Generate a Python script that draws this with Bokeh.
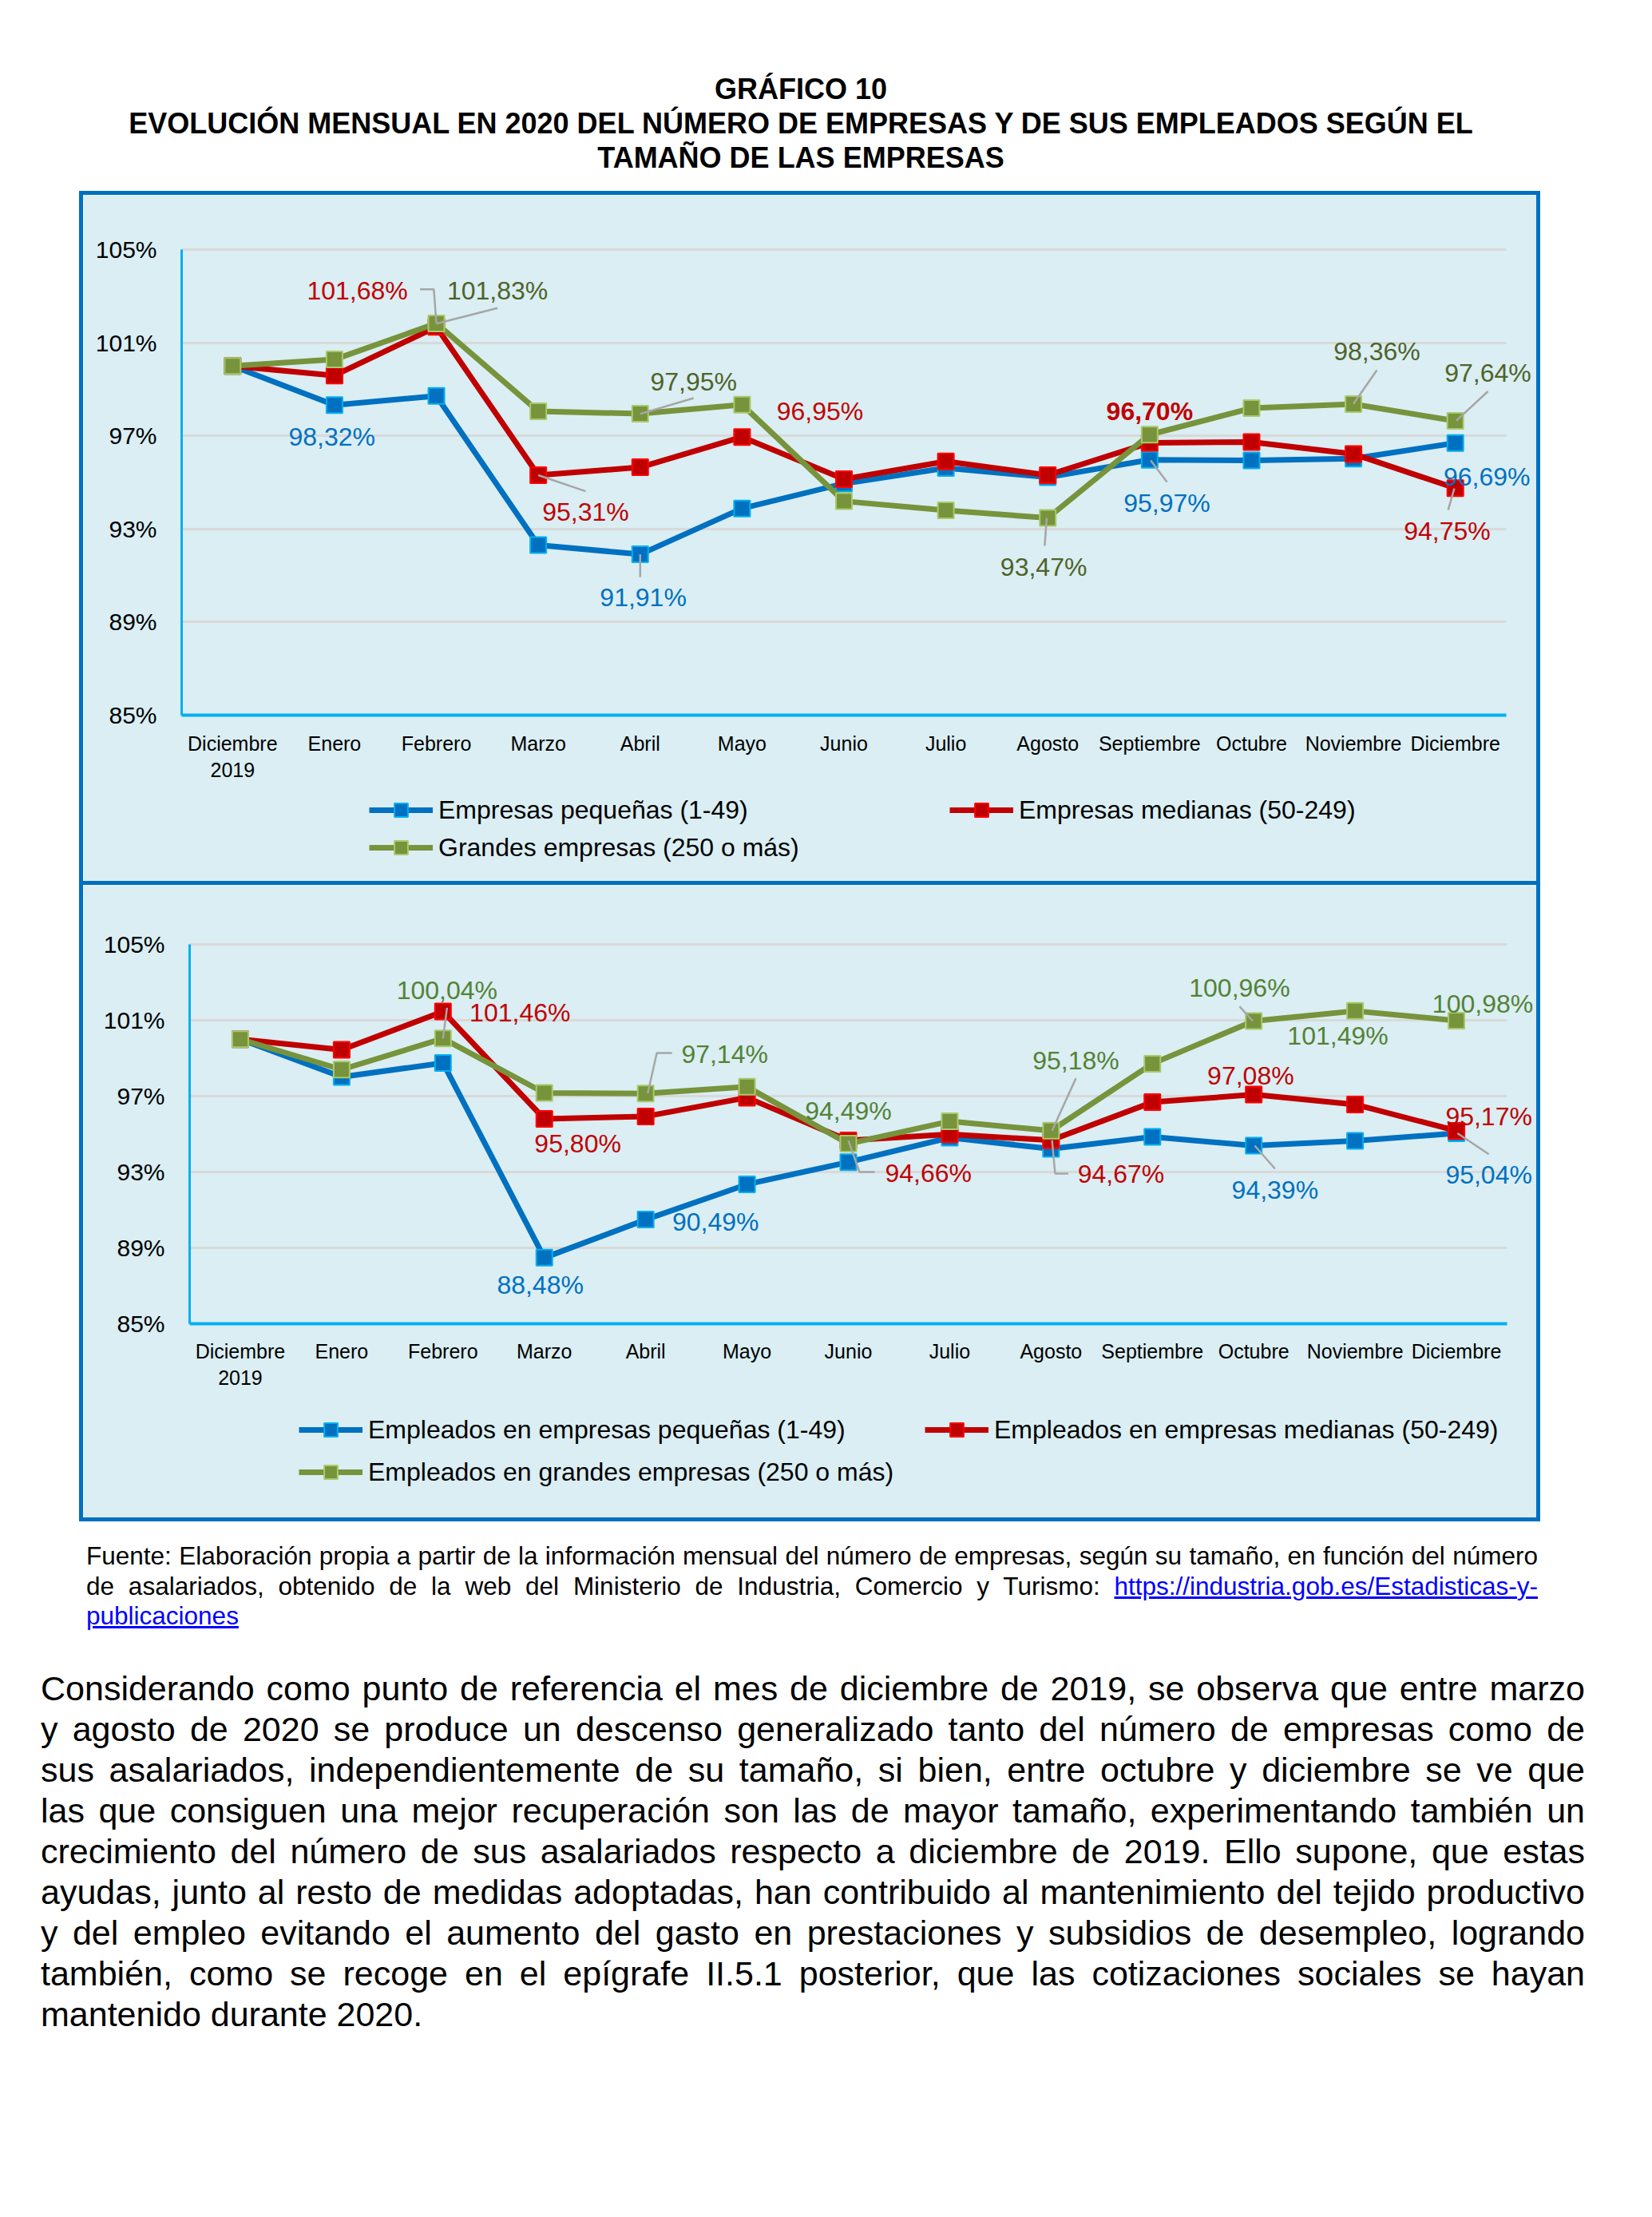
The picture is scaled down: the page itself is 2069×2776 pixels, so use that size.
from bokeh.plotting import figure
from bokeh.models import ColumnDataSource, Range1d, FixedTicker, Legend, LegendItem, Div
from bokeh.layouts import column, row
from bokeh.embed import file_html
from bokeh.resources import INLINE
from bokeh.core.properties import value

# ---------------- data ----------------
months = ["Diciembre\n2019", "Enero", "Febrero", "Marzo", "Abril", "Mayo", "Junio",
          "Julio", "Agosto", "Septiembre", "Octubre", "Noviembre", "Diciembre"]
y_ticks = [85, 89, 93, 97, 101, 105]

# Chart 1: number of companies (% of Dec 2019)
empresas_pequenas = [100.00, 98.32, 98.71, 92.31, 91.91, 93.88, 94.95, 95.62, 95.22, 95.97, 95.94, 96.02, 96.69]
empresas_medianas = [100.00, 99.59, 101.68, 95.31, 95.65, 96.95, 95.14, 95.90, 95.31, 96.70, 96.73, 96.22, 94.75]
empresas_grandes = [100.00, 100.28, 101.83, 98.05, 97.95, 98.34, 94.19, 93.80, 93.47, 97.05, 98.19, 98.36, 97.64]

# Chart 2: employees (% of Dec 2019)
empleados_pequenas = [100.00, 98.01, 98.75, 88.48, 90.49, 92.35, 93.52, 94.81, 94.22, 94.85, 94.39, 94.64, 95.04]
empleados_medianas = [100.00, 99.44, 101.46, 95.80, 95.93, 96.92, 94.66, 94.99, 94.67, 96.68, 97.08, 96.56, 95.17]
empleados_grandes = [100.00, 98.40, 100.04, 97.17, 97.14, 97.49, 94.49, 95.67, 95.18, 98.71, 100.96, 101.49, 100.98]

legend1 = ["Empresas pequeñas (1-49)", "Empresas medianas (50-249)", "Grandes empresas (250 o más)"]
legend2 = ["Empleados en empresas pequeñas (1-49)", "Empleados en empresas medianas (50-249)",
           "Empleados en grandes empresas (250 o más)"]

# data-label annotations: (series index, point index, label x, label y, leader path, bold)
labels1 = [
    (1, 2, 1.225, 103.23, [(1.84, 103.29), (1.975, 103.29), (2.0, 101.82)], False),
    (2, 2, 2.60, 103.25, [(2.6, 102.49), (2.0, 101.82)], False),
    (0, 1, 0.975, 96.97, None, False),
    (1, 3, 3.465, 93.73, [(3.465, 94.62), (3.0, 95.31)], False),
    (2, 4, 4.525, 99.33, [(4.525, 98.62), (4.0, 97.94)], False),
    (1, 5, 5.765, 98.05, None, False),
    (0, 4, 4.03, 90.05, [(4.0, 91.91), (4.0, 90.93)], False),
    (2, 8, 7.96, 91.37, [(7.97, 92.28), (7.99, 93.47)], False),
    (1, 9, 9.0, 98.05, None, True),
    (0, 9, 9.17, 94.11, [(9.17, 95.02), (9.01, 95.94)], False),
    (2, 11, 11.23, 100.62, [(11.23, 99.82), (11.0, 98.37)], False),
    (2, 12, 12.32, 99.71, [(12.32, 98.91), (12.01, 97.65)], False),
    (0, 12, 12.31, 95.25, None, False),
    (1, 12, 11.92, 92.91, [(11.93, 93.82), (11.99, 94.74)], False),
]
labels2 = [
    (2, 2, 2.04, 102.60, [(2.04, 101.66), (2.0, 100.04)], False),
    (1, 2, 2.76, 101.38, None, False),
    (1, 3, 3.33, 94.50, None, False),
    (2, 4, 4.78, 99.20, [(4.26, 99.27), (4.11, 99.27), (4.02, 97.14)], False),
    (0, 4, 4.69, 90.36, None, False),
    (0, 3, 2.96, 87.06, None, False),
    (2, 6, 6.0, 96.21, None, False),
    (1, 6, 6.79, 92.92, [(6.26, 93.0), (6.11, 93.0), (6.0, 94.66)], False),
    (2, 8, 8.245, 98.88, [(8.245, 97.94), (8.01, 95.18)], False),
    (1, 8, 8.69, 92.89, [(8.17, 92.92), (8.04, 92.92), (8.01, 94.67)], False),
    (2, 10, 9.86, 102.71, [(9.86, 101.73), (9.99, 100.96)], False),
    (2, 11, 10.83, 100.19, None, False),
    (1, 10, 9.97, 98.08, None, False),
    (0, 10, 10.21, 92.05, [(10.21, 93.17), (10.01, 94.39)], False),
    (2, 12, 12.26, 101.87, None, False),
    (1, 12, 12.32, 95.93, None, False),
    (0, 12, 12.32, 92.85, [(12.32, 93.94), (12.01, 95.04)], False),
]

# ---------------- styles ----------------
FONT = "Liberation Sans"
BG = "#DAEEF3"
BOX = "#0070C0"
AXIS = "#00B0F0"
LINE_COLORS = ["#0070C0", "#C00000", "#77933C"]
EDGE_COLORS = ["#00B0F0", "#FF0000", "#A9C96A"]
W = 1820


def fmt(v):
    return ("%.2f" % v).replace(".", ",") + "%"


def make_chart(series, names, labels, green_label, height, left, top, plot_h, axis_len,
               leg_pos, glyph_w, x_standoff):
    # the frame covers the whole canvas; axes are placed inside it with fixed_location
    ppu = axis_len / 13.0
    x_start = -0.5 - left / ppu
    x_end = x_start + W / ppu
    ppy = plot_h / 20.0
    y_end = 105 + top / ppy
    y_start = y_end - height / ppy
    p = figure(width=W, height=height, output_backend="svg", toolbar_location=None,
               x_range=Range1d(x_start, x_end), y_range=Range1d(y_start, y_end),
               min_border_left=0, min_border_right=0, min_border_top=0,
               min_border_bottom=0)
    p.background_fill_color = BG
    p.border_fill_color = BG
    p.outline_line_color = None

    x = list(range(len(months)))
    p.xaxis.fixed_location = 85
    p.xaxis.ticker = FixedTicker(ticks=x)
    p.xaxis.major_label_overrides = {i: m for i, m in enumerate(months)}
    p.xaxis.bounds = (-0.5, 12.5)
    p.xaxis.axis_line_color = AXIS
    p.xaxis.axis_line_width = 4
    p.xaxis.major_tick_line_color = None
    p.xaxis.minor_tick_line_color = None
    p.xaxis.major_tick_out = 0
    p.xaxis.major_tick_in = 0
    p.xaxis.minor_tick_out = 0
    p.xaxis.major_label_text_font = FONT
    p.xaxis.major_label_text_font_size = "25px"
    p.xaxis.major_label_text_color = "black"
    p.xaxis.major_label_standoff = x_standoff

    p.yaxis.fixed_location = -0.5
    p.yaxis.ticker = FixedTicker(ticks=y_ticks)
    p.yaxis.major_label_overrides = {t: "%d%%" % t for t in y_ticks}
    p.yaxis.bounds = (85, 105)
    p.yaxis.axis_line_color = AXIS
    p.yaxis.axis_line_width = 3
    p.yaxis.major_tick_line_color = None
    p.yaxis.minor_tick_line_color = None
    p.yaxis.major_tick_out = 0
    p.yaxis.major_tick_in = 0
    p.yaxis.minor_tick_out = 0
    p.yaxis.major_label_text_font = FONT
    p.yaxis.major_label_text_font_size = "30px"
    p.yaxis.major_label_text_color = "black"
    p.yaxis.major_label_standoff = 31

    p.xgrid.grid_line_color = None
    p.ygrid.grid_line_color = "#D9D9D9"
    p.ygrid.grid_line_width = 3
    try:
        p.ygrid.cross_bounds = (-0.5, 12.5)
    except Exception:
        pass

    rends = []
    for k, ys in enumerate(series):
        lr = p.line(x, ys, line_color=LINE_COLORS[k], line_width=7, line_join="round")
        sr = p.scatter(x, ys, marker="square", size=20, fill_color=LINE_COLORS[k],
                       line_color=EDGE_COLORS[k], line_width=2)
        rends.append((lr, sr))

    # leader lines
    lxs, lys = [], []
    for (_, _, _, _, path, _) in labels:
        if path:
            lxs.append([a for a, b in path])
            lys.append([b for a, b in path])
    p.multi_line(lxs, lys, line_color="#A6A6A6", line_width=2.5)

    label_colors = ["#0070C0", "#C00000", green_label]
    src = ColumnDataSource(dict(
        x=[l[2] for l in labels],
        y=[l[3] for l in labels],
        text=[fmt(series[l[0]][l[1]]) for l in labels],
        color=[label_colors[l[0]] for l in labels],
        style=["bold" if l[5] else "normal" for l in labels],
    ))
    p.text(x="x", y="y", text="text", source=src, text_color="color",
           text_font=value(FONT), text_font_size="32px", text_font_style="style",
           text_align="center", text_baseline="middle")

    for k in range(3):
        leg = Legend(items=[LegendItem(label=names[k], renderers=list(rends[k]))],
                     location=leg_pos[k])
        leg.border_line_color = None
        leg.background_fill_alpha = 0
        leg.padding = 0
        leg.margin = 0
        leg.spacing = 0
        leg.glyph_width = glyph_w
        leg.glyph_height = 42
        leg.label_standoff = 7
        leg.label_text_font = FONT
        leg.label_text_font_size = "32px"
        leg.label_text_color = "black"
        p.add_layout(leg)
    return p


p1 = make_chart([empresas_pequenas, empresas_medianas, empresas_grandes], legend1, labels1,
                "#4F6228", height=859, left=123, top=68, plot_h=583, axis_len=1659,
                leg_pos=[(358, 68), (1085, 68), (358, 21)], glyph_w=80, x_standoff=21)
p2 = make_chart([empleados_pequenas, empleados_medianas, empleados_grandes], legend2, labels2,
                "#548235", height=792, left=133, top=74, plot_h=475, axis_len=1650,
                leg_pos=[(270, 89), (1054, 89), (270, 36)], glyph_w=80, x_standoff=20)


def bar(w, h):
    return Div(text="", width=w, height=h, margin=0, styles={"background-color": BOX})


inner = column(bar(W, 5), p1, bar(W, 5), p2, bar(W, 5), spacing=0, margin=0)
box = row(bar(5, 1666), inner, bar(5, 1666), spacing=0, margin=(0, 0, 0, 99))

title_html = ("<div style=\"width:1830px;font-family:'Liberation Sans',Arial,sans-serif;font-weight:bold;"
              "font-size:36px;line-height:43px;text-align:center;color:#000;\">"
              "GRÁFICO 10<br>EVOLUCIÓN MENSUAL EN 2020 DEL NÚMERO DE EMPRESAS Y DE SUS EMPLEADOS SEGÚN EL"
              "<br>TAMAÑO DE LAS EMPRESAS</div>")
title = Div(text=title_html, width=1830, height=149, margin=(90, 0, 0, 88))

J = "text-align:justify;text-align-last:justify;"
A = "color:#0000FF;text-decoration:underline;"
src_html = ("<div style=\"width:1818px;font-family:'Liberation Sans',Arial,sans-serif;font-size:31.5px;"
            "line-height:37.5px;color:#000;\">"
            f"<div style='{J}'>Fuente: Elaboración propia a partir de la información mensual del número de empresas, según su tamaño, en función del número</div>"
            f"<div style='{J}'>de asalariados, obtenido de la web del Ministerio de Industria, Comercio y Turismo: "
            f"<a style='{A}' href='https://industria.gob.es/Estadisticas-y-publicaciones'>https://industria.gob.es/Estadisticas-y-</a></div>"
            f"<div><a style='{A}' href='https://industria.gob.es/Estadisticas-y-publicaciones'>publicaciones</a></div>"
            "</div>")
source = Div(text=src_html, width=1818, height=113, margin=(25, 0, 0, 108))

para_lines = [
    "Considerando como punto de referencia el mes de diciembre de 2019, se observa que entre marzo",
    "y agosto de 2020 se produce un descenso generalizado tanto del número de empresas como de",
    "sus asalariados, independientemente de su tamaño, si bien, entre octubre y diciembre se ve que",
    "las que consiguen una mejor recuperación son las de mayor tamaño, experimentando también un",
    "crecimiento del número de sus asalariados respecto a diciembre de 2019. Ello supone, que estas",
    "ayudas, junto al resto de medidas adoptadas, han contribuido al mantenimiento del tejido productivo",
    "y del empleo evitando el aumento del gasto en prestaciones y subsidios de desempleo, logrando",
    "también, como se recoge en el epígrafe II.5.1 posterior, que las cotizaciones sociales se hayan",
    "mantenido durante 2020.",
]
para_html = ("<div style=\"width:1934px;font-family:'Liberation Sans',Arial,sans-serif;font-size:43px;"
             "line-height:51px;color:#000;\">"
             + "".join(f"<div style='{J}'>{t}</div>" for t in para_lines[:-1])
             + f"<div>{para_lines[-1]}</div></div>")
para = Div(text=para_html, width=1934, height=460, margin=(46, 0, 0, 51))

layout = column(title, box, source, para, spacing=0)

open("out.html", "w").write(file_html(layout, INLINE))
